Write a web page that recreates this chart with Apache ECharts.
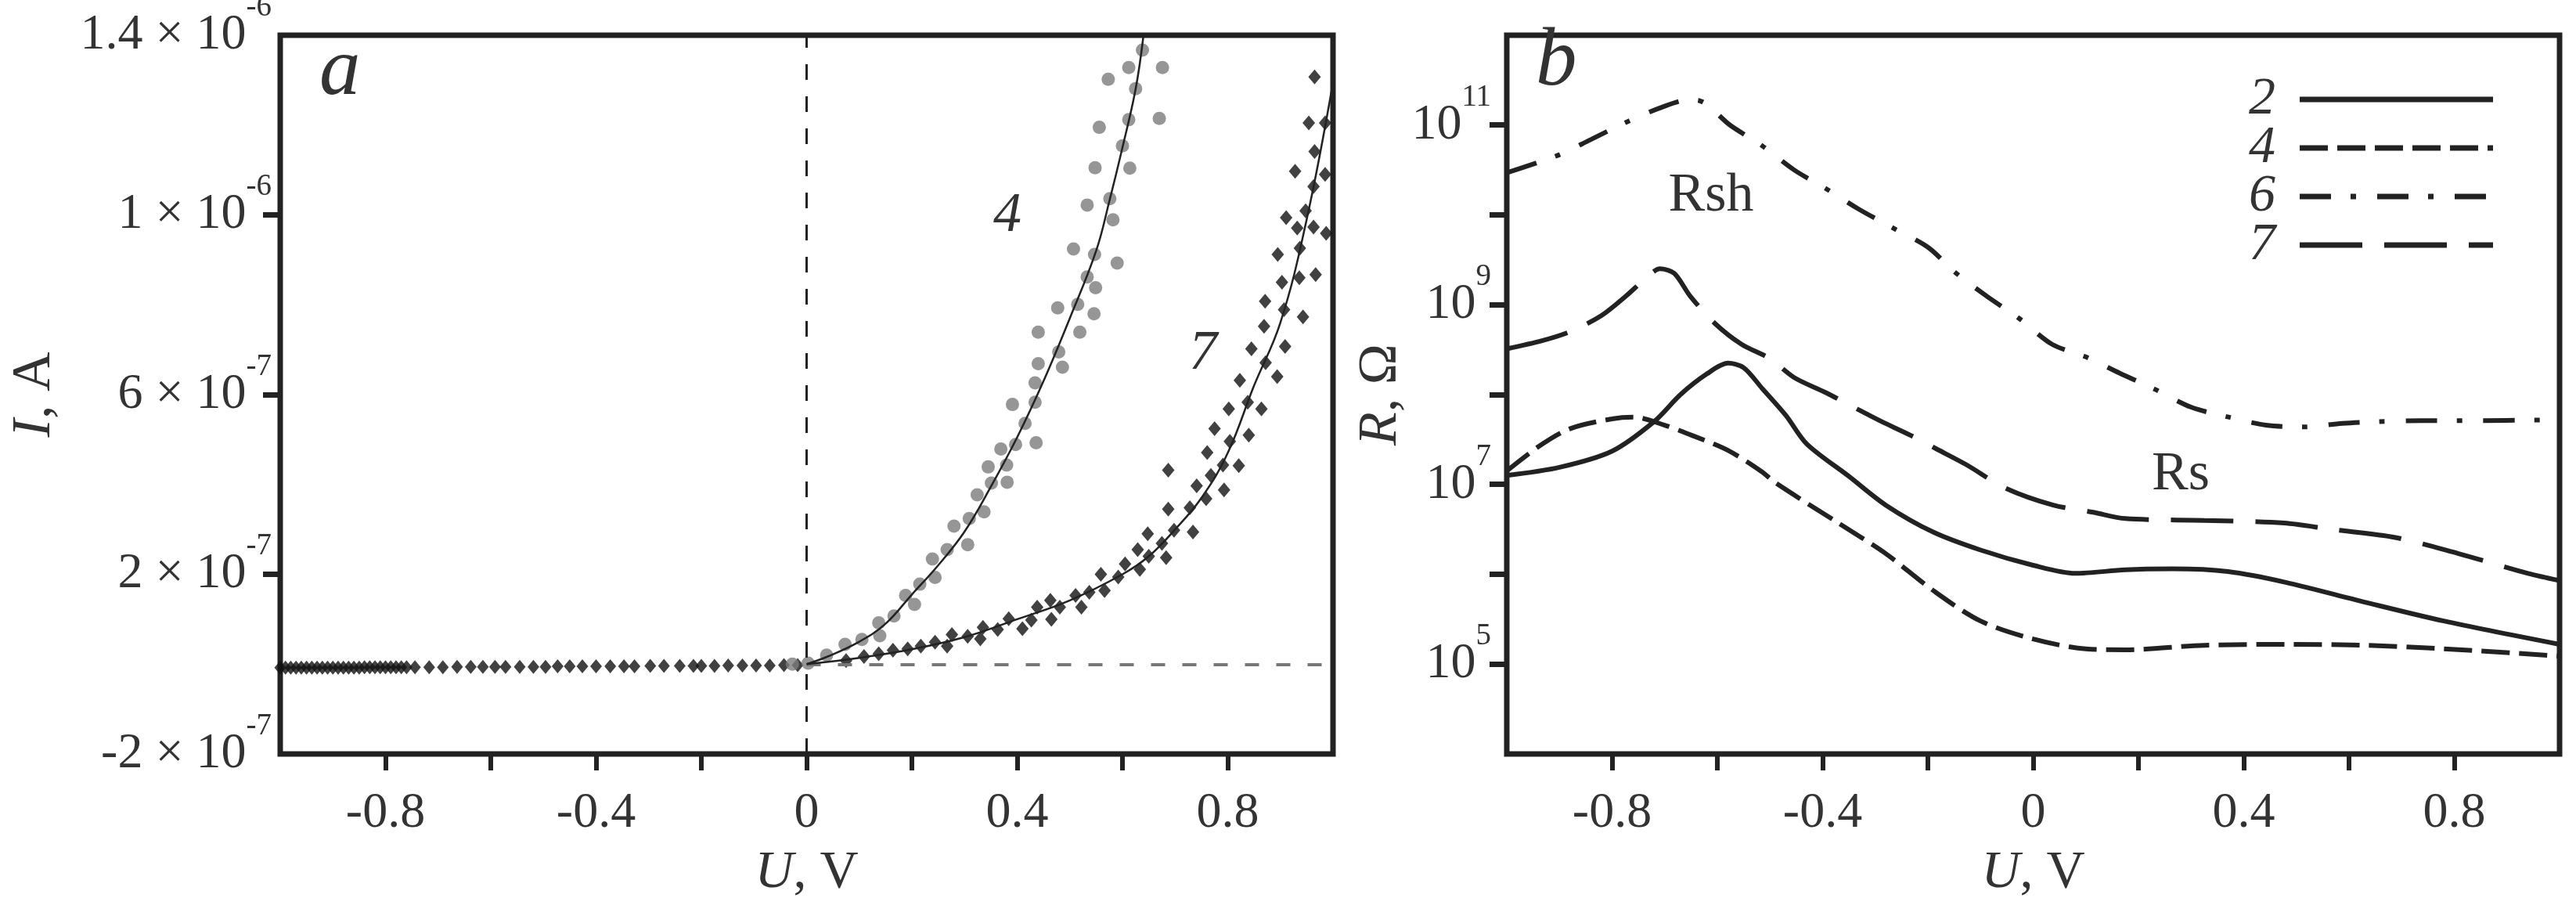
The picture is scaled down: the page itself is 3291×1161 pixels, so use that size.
<!DOCTYPE html>
<html>
<head>
<meta charset="utf-8">
<script src="https://cdn.jsdelivr.net/npm/echarts@6/dist/echarts.min.js"></script>
<style>
html, body { margin: 0; padding: 0; background: #fff; }
#chart { width: 3291px; height: 1161px; }
</style>
</head>
<body>
<div id="chart"></div>
<script>
// ---- panel a : I(U), current in units of 1e-7 A ----
const I_UNIT = 1e-7

// reverse branch, black diamonds
const uRev = [-1.00, -0.99, -0.98, -0.97, -0.96, -0.95, -0.94, -0.93, -0.92, -0.91, -0.90, -0.89, -0.88, -0.87, -0.86, -0.85,
	-0.84, -0.83, -0.82, -0.81, -0.80, -0.79, -0.78, -0.77, -0.76, -0.744, -0.717, -0.691, -0.664, -0.638, -0.615, -0.592,
	-0.572, -0.545, -0.519, -0.496, -0.473, -0.450, -0.426, -0.400, -0.373, -0.347, -0.327, -0.297, -0.271, -0.241,
	-0.215, -0.200, -0.175, -0.149, -0.122, -0.096, -0.070, -0.043, -0.017]
const iRev = [-0.08, -0.08, -0.08, -0.08, -0.08, -0.08, -0.08, -0.08, -0.08, -0.08, -0.08, -0.08, -0.08, -0.08, -0.08, -0.08,
	-0.07, -0.07, -0.07, -0.07, -0.07, -0.07, -0.07, -0.07, -0.07, -0.07, -0.07, -0.07, -0.06, -0.06, -0.06, -0.06,
	-0.06, -0.06, -0.06, -0.06, -0.05, -0.05, -0.05, -0.05, -0.05, -0.05, -0.05, -0.04, -0.04, -0.04,
	-0.04, -0.04, -0.04, -0.03, -0.03, -0.03, -0.03, -0.02, -0.02]

// sample 4, grey circles [U, I]
const dots4 = [[-0.027, 0], [0.003, 0.02], [0.038, 0.2], [0.073, 0.44], [0.105, 0.55], [0.137, 0.92], [0.139, 0.63],
	[0.166, 1.07], [0.188, 1.53], [0.205, 1.33], [0.215, 1.78], [0.244, 1.93], [0.239, 2.34], [0.267, 2.55],
	[0.306, 2.66], [0.280, 3.07], [0.309, 3.24], [0.337, 3.39], [0.324, 3.77], [0.351, 4.03], [0.381, 4.05],
	[0.345, 4.39], [0.380, 4.43], [0.369, 4.79], [0.397, 4.89], [0.436, 4.93], [0.391, 5.78], [0.415, 5.36],
	[0.434, 5.83], [0.434, 6.26], [0.440, 6.69], [0.486, 6.61], [0.479, 6.95], [0.440, 7.39], [0.519, 7.39],
	[0.546, 7.80], [0.515, 8.01], [0.477, 7.93], [0.549, 8.38], [0.533, 8.62], [0.590, 8.93], [0.547, 9.12],
	[0.507, 9.24], [0.582, 9.89], [0.533, 10.22], [0.576, 10.36], [0.614, 11.04], [0.548, 11.05], [0.600, 11.54],
	[0.556, 11.95], [0.670, 12.15], [0.612, 12.12], [0.625, 12.81], [0.573, 13.02], [0.676, 13.28], [0.612, 13.28],
	[0.638, 13.67]]

// sample 7, black diamonds [U, I]
const dots7 = [[0.075, 0.08], [0.109, 0.17], [0.137, 0.23], [0.164, 0.31], [0.192, 0.34], [0.217, 0.40], [0.244, 0.49],
	[0.267, 0.40], [0.276, 0.66], [0.306, 0.62], [0.330, 0.56], [0.335, 0.82], [0.363, 0.77], [0.384, 1.01],
	[0.410, 0.79], [0.427, 0.98], [0.438, 1.27], [0.465, 1.00], [0.463, 1.42], [0.481, 1.27], [0.511, 1.53],
	[0.522, 1.27], [0.537, 1.60], [0.559, 2.00], [0.566, 1.64], [0.592, 1.94], [0.605, 2.23], [0.633, 2.11],
	[0.629, 2.55], [0.648, 2.90], [0.650, 2.40], [0.675, 2.69], [0.683, 2.37], [0.698, 2.98], [0.687, 4.32],
	[0.687, 3.45], [0.728, 3.48], [0.734, 2.94], [0.741, 3.97], [0.759, 3.68], [0.768, 4.20], [0.761, 4.71],
	[0.791, 4.43], [0.793, 3.88], [0.804, 4.96], [0.821, 4.42], [0.775, 5.24], [0.802, 5.68], [0.840, 5.10],
	[0.838, 5.83], [0.864, 5.68], [0.823, 6.32], [0.872, 6.71], [0.894, 6.40], [0.845, 7.02], [0.909, 7.07],
	[0.869, 7.52], [0.943, 7.73], [0.907, 7.89], [0.871, 8.08], [0.967, 8.67], [0.936, 8.60], [0.903, 8.50],
	[0.895, 9.12], [0.937, 9.26], [0.987, 9.59], [0.963, 9.73], [0.932, 9.71], [0.911, 9.94], [0.948, 10.09],
	[0.963, 10.63], [0.985, 10.90], [0.928, 10.97], [0.965, 11.41], [0.985, 12.05], [0.954, 12.05], [0.965, 13.07]]

// fitted curves
const uFit4 = [0, 0.04, 0.1, 0.15, 0.2, 0.25, 0.3, 0.35, 0.4, 0.45, 0.5, 0.55, 0.575, 0.6, 0.625, 0.64]
const iFit4 = [0, 0.17, 0.5, 0.9, 1.55, 2.2, 2.95, 3.95, 5.05, 6.3, 7.7, 9.2, 10.3, 11.5, 12.8, 14.0]
const uFit7 = [0, 0.1, 0.2, 0.3, 0.4, 0.5, 0.6, 0.65, 0.7, 0.75, 0.8, 0.85, 0.9, 0.95, 1.0]
const iFit7 = [0, 0.14, 0.33, 0.6, 1.0, 1.42, 2.0, 2.4, 3.0, 3.7, 4.7, 6.2, 7.6, 9.9, 12.95]

// axis ticks panel a
const uTicks = [-0.8, -0.6, -0.4, -0.2, 0, 0.2, 0.4, 0.6, 0.8]
const uLabels = [-0.8, -0.4, 0, 0.4, 0.8]
const iTicksA = [2e-7, 6e-7, 1e-6]
const iLabelVals = [-2e-7, 2e-7, 6e-7, 1e-6, 1.4e-6]
const iLabelText = [['-2', '-7'], ['2', '-7'], ['6', '-7'], ['1', '-6'], ['1.4', '-6']]

// ---- panel b : R(U), log10 of resistance in ohm ----
const u2 = [-1.0, -0.9, -0.8, -0.72, -0.67, -0.62, -0.58, -0.55, -0.515, -0.47, -0.43, -0.35, -0.28, -0.19, -0.10,
	0.0, 0.08, 0.175, 0.265, 0.37, 0.48, 0.63, 0.78, 1.0]
const logR2 = [7.10, 7.19, 7.37, 7.70, 8.0, 8.23, 8.35, 8.30, 8.07, 7.77, 7.45, 7.09, 6.77, 6.47, 6.27,
	6.10, 6.01, 6.05, 6.06, 6.03, 5.91, 5.69, 5.48, 5.22]
const u4 = [-1.0, -0.94, -0.88, -0.80, -0.76, -0.70, -0.65, -0.58, -0.515, -0.49, -0.37, -0.28, -0.19, -0.10,
	0.0, 0.1, 0.175, 0.325, 0.48, 0.63, 0.78, 1.0]
const logR4 = [7.15, 7.42, 7.62, 7.73, 7.75, 7.66, 7.55, 7.38, 7.14, 7.02, 6.57, 6.23, 5.82, 5.48,
	5.28, 5.17, 5.16, 5.21, 5.22, 5.21, 5.17, 5.09]
const u6 = [-1.0, -0.9, -0.84, -0.77, -0.705, -0.655, -0.633, -0.576, -0.515, -0.454, -0.393, -0.333, -0.265, -0.2,
	-0.148, -0.087, -0.027, 0.036, 0.10, 0.164, 0.231, 0.30, 0.371, 0.442, 0.515, 0.587, 0.658, 0.738, 0.818, 1.0]
const logR6 = [10.47, 10.67, 10.84, 11.04, 11.2, 11.28, 11.27, 11.0, 10.77, 10.5, 10.29, 10.07, 9.85, 9.64,
	9.36, 9.09, 8.85, 8.56, 8.42, 8.24, 8.06, 7.86, 7.75, 7.66, 7.64, 7.68, 7.70, 7.71, 7.71, 7.72]
const u7 = [-1.0, -0.933, -0.88, -0.82, -0.773, -0.735, -0.709, -0.682, -0.652, -0.606, -0.554, -0.50, -0.454,
	-0.393, -0.341, -0.288, -0.234, -0.182, -0.127, -0.053, 0.038, 0.114, 0.175, 0.325, 0.477, 0.567, 0.688,
	0.808, 0.94, 1.0]
const logR7 = [8.51, 8.60, 8.70, 8.88, 9.10, 9.30, 9.40, 9.35, 9.10, 8.80, 8.56, 8.40, 8.19,
	8.02, 7.86, 7.70, 7.55, 7.39, 7.22, 6.96, 6.77, 6.69, 6.62, 6.60, 6.57, 6.50, 6.41,
	6.23, 6.01, 5.93]

const rTicks = [1e5, 1e6, 1e7, 1e8, 1e9, 1e10, 1e11]
const rLabels = [1e5, 1e7, 1e9, 1e11]
const legendNames = ['2', '4', '6', '7']

// ---- styles ----
const FONT = 'Liberation Serif'
const INK = '#222'
const TXT = '#333'

const zip = (xs, ys, k) => xs.map((x, i) => [x, ys[i] * k])
const zipLog = (xs, ys) => xs.map((x, i) => [x, Math.pow(10, ys[i])])

const chart = echarts.init(document.getElementById('chart'))

const xAxisCommon = {
	type: 'value',
	min: -1,
	max: 1,
	axisLine: { show: false, onZero: false },
	splitLine: { show: false },
	axisTick: { show: true, customValues: uTicks, length: 21, lineStyle: { color: INK, width: 6 } },
	axisLabel: {
		customValues: uLabels,
		margin: 44,
		fontFamily: FONT,
		fontSize: 64,
		color: TXT,
		formatter: v => (Math.abs(v) < 1e-9 ? '0' : v.toFixed(1))
	},
	name: '{i|U}, V',
	nameLocation: 'middle',
	nameGap: 118,
	nameTextStyle: {
		fontFamily: FONT,
		fontSize: 68,
		color: TXT,
		rich: { i: { fontFamily: FONT, fontSize: 68, fontStyle: 'italic', color: TXT } }
	}
}

const supRich = {
	m: { fontFamily: FONT, fontSize: 64, lineHeight: 110, color: TXT },
	s: { fontFamily: FONT, fontSize: 39, lineHeight: 40, verticalAlign: 'top', color: TXT }
}

const option = {
	animation: false,
	backgroundColor: '#fff',
	grid: [
		{ left: 358, top: 45, width: 1345, height: 918, outerBoundsMode: 'none', containLabel: false, show: true, borderColor: INK, borderWidth: 7 },
		{ left: 1925, top: 45, width: 1345, height: 918, outerBoundsMode: 'none', containLabel: false, show: true, borderColor: INK, borderWidth: 7 }
	],
	xAxis: [
		Object.assign({ gridIndex: 0 }, xAxisCommon),
		Object.assign({ gridIndex: 1 }, xAxisCommon)
	],
	yAxis: [
		{
			gridIndex: 0,
			type: 'value',
			position: 'left',
			min: -2e-7,
			max: 1.4e-6,
			axisLine: { show: false, onZero: false },
			splitLine: { show: false },
			axisTick: { show: true, customValues: iTicksA, length: 22, lineStyle: { color: INK, width: 7 } },
			axisLabel: {
				customValues: iLabelVals,
				margin: 11,
				formatter: v => {
					let k = 0
					iLabelVals.forEach((c, i) => { if (Math.abs(c - v) < Math.abs(iLabelVals[k] - v)) k = i })
					return `{m|${iLabelText[k][0]} × 10}{s|${iLabelText[k][1]}}`
				},
				rich: supRich
			},
			name: '{i|I}, A',
			nameLocation: 'middle',
			nameRotate: 90,
			nameGap: 278,
			nameTextStyle: {
				fontFamily: FONT,
				fontSize: 70,
				color: TXT,
				rich: { i: { fontFamily: FONT, fontSize: 70, fontStyle: 'italic', color: TXT } }
			}
		},
		{
			gridIndex: 1,
			type: 'log',
			position: 'left',
			logBase: 10,
			min: 1e4,
			max: 1e12,
			axisLine: { show: false, onZero: false },
			splitLine: { show: false },
			axisTick: { show: true, customValues: rTicks, length: 22, lineStyle: { color: INK, width: 7 } },
			axisLabel: {
				customValues: rLabels,
				margin: 20,
				formatter: v => `{m|10}{s|${Math.round(Math.log10(v))}}`,
				rich: supRich
			},
			name: '{i|R}, Ω',
			nameLocation: 'middle',
			nameRotate: 90,
			nameGap: 122,
			nameTextStyle: {
				fontFamily: FONT,
				fontSize: 70,
				color: TXT,
				rich: { i: { fontFamily: FONT, fontSize: 70, fontStyle: 'italic', color: TXT } }
			}
		}
	],
	legend: {
		data: legendNames,
		left: 2868,
		top: 88,
		orient: 'vertical',
		align: 'right',
		itemWidth: 247,
		itemHeight: 20,
		itemGap: -6,
		selectedMode: false,
		itemStyle: { color: 'rgba(0,0,0,0)', borderWidth: 0 },
		lineStyle: { width: 7 },
		textStyle: {
			fontFamily: FONT,
			fontStyle: 'italic',
			fontSize: 68,
			lineHeight: 57,
			color: TXT,
			padding: [0, 26, 0, 0]
		}
	},
	series: [
		{
			name: 'rev',
			type: 'scatter',
			xAxisIndex: 0,
			yAxisIndex: 0,
			symbol: 'diamond',
			symbolSize: [15, 18],
			itemStyle: { color: '#111' },
			data: zip(uRev, iRev, I_UNIT),
			markLine: {
				silent: true,
				symbol: 'none',
				label: { show: false },
				data: [
					{ xAxis: 0, lineStyle: { type: [20, 21], color: INK, width: 3 } },
					[
						{ coord: [0, 0], lineStyle: { type: [18, 22], color: '#777', width: 4 } },
						{ coord: [1, 0] }
					]
				]
			}
		},
		{
			name: 'dots4',
			type: 'scatter',
			xAxisIndex: 0,
			yAxisIndex: 0,
			symbol: 'circle',
			symbolSize: 17,
			itemStyle: { color: '#7c7c7c' },
			data: dots4.map(p => [p[0], p[1] * I_UNIT])
		},
		{
			name: 'dots7',
			type: 'scatter',
			xAxisIndex: 0,
			yAxisIndex: 0,
			symbol: 'diamond',
			symbolSize: [16, 19],
			itemStyle: { color: '#111' },
			data: dots7.map(p => [p[0], p[1] * I_UNIT])
		},
		{
			name: 'fit4',
			type: 'line',
			xAxisIndex: 0,
			yAxisIndex: 0,
			symbol: 'none',
			smooth: 0.4,
			z: 5,
			lineStyle: { color: INK, width: 2.5 },
			data: zip(uFit4, iFit4, I_UNIT)
		},
		{
			name: 'fit7',
			type: 'line',
			xAxisIndex: 0,
			yAxisIndex: 0,
			symbol: 'none',
			smooth: 0.4,
			z: 5,
			lineStyle: { color: INK, width: 2.5 },
			data: zip(uFit7, iFit7, I_UNIT)
		},
		{
			name: '2',
			type: 'line',
			xAxisIndex: 1,
			yAxisIndex: 1,
			symbol: 'none',
			smooth: 0.3,
			itemStyle: { color: INK },
			lineStyle: { color: INK, width: 6 },
			data: zipLog(u2, logR2)
		},
		{
			name: '4',
			type: 'line',
			xAxisIndex: 1,
			yAxisIndex: 1,
			symbol: 'none',
			smooth: 0.3,
			itemStyle: { color: INK },
			lineStyle: { color: INK, width: 6, type: [36, 12] },
			data: zipLog(u4, logR4)
		},
		{
			name: '6',
			type: 'line',
			xAxisIndex: 1,
			yAxisIndex: 1,
			symbol: 'none',
			smooth: 0.3,
			itemStyle: { color: INK },
			lineStyle: { color: INK, width: 6, type: [40, 25, 7, 27] },
			data: zipLog(u6, logR6)
		},
		{
			name: '7',
			type: 'line',
			xAxisIndex: 1,
			yAxisIndex: 1,
			symbol: 'none',
			smooth: 0.3,
			itemStyle: { color: INK },
			lineStyle: { color: INK, width: 6, type: [80, 28] },
			data: zipLog(u7, logR7)
		}
	],
	graphic: [
		{ type: 'text', left: 408, top: 40, style: { text: 'a', font: `italic 105px "${FONT}"`, fill: TXT } },
		{ type: 'text', left: 1962, top: 28, style: { text: 'b', font: `italic 105px "${FONT}"`, fill: TXT } },
		{ type: 'text', x: 1287, y: 276, style: { text: '4', font: `italic 72px "${FONT}"`, fill: TXT, align: 'center', verticalAlign: 'middle' } },
		{ type: 'text', x: 1537, y: 452, style: { text: '7', font: `italic 72px "${FONT}"`, fill: TXT, align: 'center', verticalAlign: 'middle' } },
		{ type: 'text', x: 2186, y: 251, style: { text: 'Rsh', font: `70px "${FONT}"`, fill: TXT, align: 'center', verticalAlign: 'middle' } },
		{ type: 'text', x: 2786, y: 607, style: { text: 'Rs', font: `70px "${FONT}"`, fill: TXT, align: 'center', verticalAlign: 'middle' } }
	]
}

chart.setOption(option)
</script>
</body>
</html>
